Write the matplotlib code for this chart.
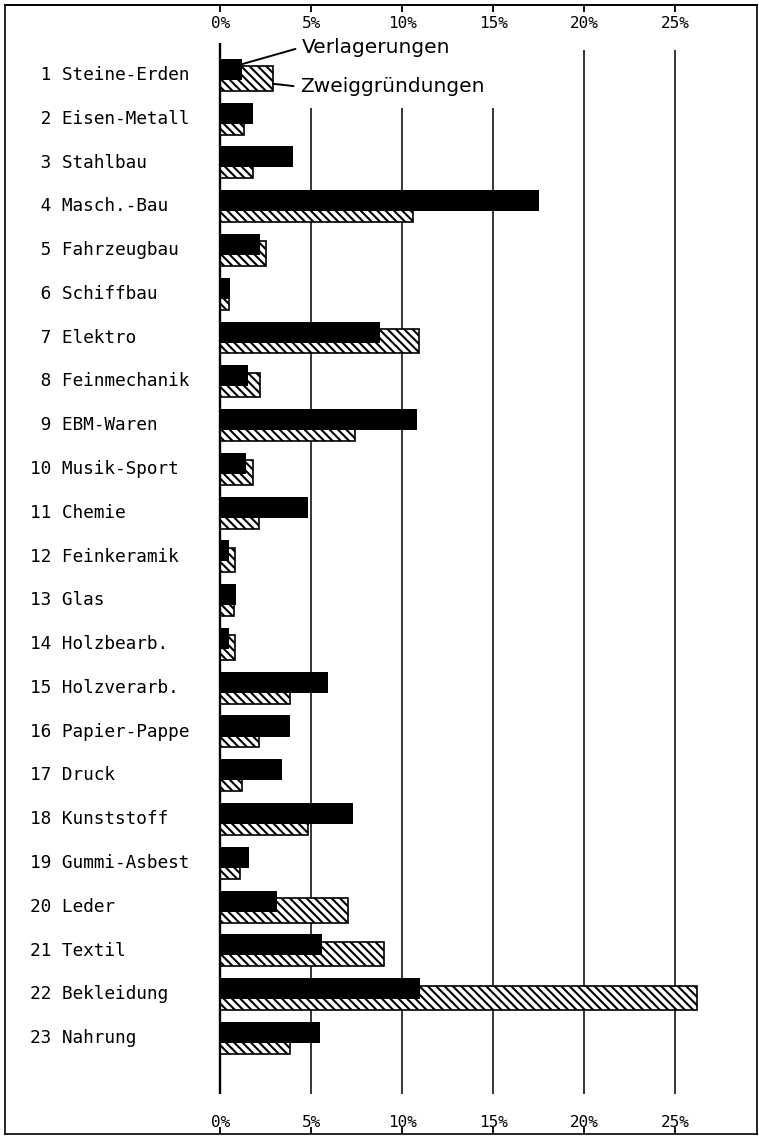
import matplotlib.pyplot as plt
import numpy as np

# Branchen (Industriezweige)
branchen = ["Steine-Erden", "Eisen-Metall", "Stahlbau", "Masch.-Bau", "Fahrzeugbau",
            "Schiffbau", "Elektro", "Feinmechanik", "EBM-Waren", "Musik-Sport",
            "Chemie", "Feinkeramik", "Glas", "Holzbearb.", "Holzverarb.",
            "Papier-Pappe", "Druck", "Kunststoff", "Gummi-Asbest", "Leder",
            "Textil", "Bekleidung", "Nahrung"]

# Anteile in %
verlagerungen = [1.2, 1.8, 4.0, 17.5, 2.2, 0.55, 8.8, 1.5, 10.8, 1.4,
                 4.8, 0.45, 0.85, 0.45, 5.9, 3.8, 3.4, 7.3, 1.6, 3.1,
                 5.6, 11.0, 5.5]
zweiggruendungen = [2.9, 1.3, 1.8, 10.6, 2.5, 0.5, 10.9, 2.2, 7.4, 1.8,
                    2.1, 0.8, 0.75, 0.8, 3.8, 2.1, 1.2, 4.8, 1.1, 7.0,
                    9.0, 26.2, 3.8]

ticks = [0, 5, 10, 15, 20, 25]
tick_labels = [f"{t}%" for t in ticks]

plt.rcParams['hatch.linewidth'] = 1.5

fig = plt.figure(figsize=(7.59, 11.37), dpi=100)
ax = fig.add_axes([5/759, 3/1137, 752/759, 1129/1137])

y = np.arange(1, len(branchen) + 1)

ax.set_xlim(-11.84, 29.5)
ax.set_ylim(25.19, -0.6)

# balken: schwarz vorne, schraffiert dahinter, etwas nach unten versetzt
ax.barh(y - 0.13, verlagerungen, height=0.48, color='black', zorder=3)
ax.barh(y + 0.08, zweiggruendungen, height=0.56, facecolor='white',
        edgecolor='black', hatch='\\\\\\\\', linewidth=1.2, zorder=2)

# senkrechte linien
ax.vlines(0, 0.27, 24.28, color='black', lw=1.7, zorder=4)
ax.vlines([5, 10, 15], 1.75, 24.28, color='black', lw=1.1, zorder=1)
ax.vlines([20, 25], 0.43, 24.28, color='black', lw=1.1, zorder=1)

# beschriftung links
for i, name in zip(y, branchen):
    ax.text(-10.46, i, f"{i:>2} {name}", family='DejaVu Sans Mono',
            fontsize=12.8, va='center', ha='left')

# legende mit hinweislinien
ax.annotate("Verlagerungen", xy=(verlagerungen[0], 1 - 0.25), xytext=(4.5, 0.36),
            fontsize=14.5, va='center', ha='left',
            arrowprops=dict(arrowstyle='-', lw=1.4, color='black',
                            shrinkA=3, shrinkB=0, relpos=(0, 0.5)))
ax.annotate("Zweiggründungen", xy=(zweiggruendungen[0], 1 + 0.2), xytext=(4.4, 1.27),
            fontsize=14.5, va='center', ha='left',
            arrowprops=dict(arrowstyle='-', lw=1.4, color='black',
                            shrinkA=3, shrinkB=0, relpos=(0, 0.5)))

# achsen unten und oben
ax.set_yticks([])
ax.set_xticks(ticks, tick_labels, family='DejaVu Sans Mono', fontsize=11.5)
ax.tick_params(axis='x', direction='in', length=5, width=1.3, pad=-14)

top = ax.secondary_xaxis('top')
top.set_xticks(ticks, tick_labels, family='DejaVu Sans Mono', fontsize=11.5)
top.tick_params(axis='x', direction='in', length=5, width=1.3, pad=-19)
top.spines['top'].set_linewidth(1.2)

for s in ax.spines.values():
    s.set_linewidth(1.2)

fig.savefig('out.png', dpi=100)
